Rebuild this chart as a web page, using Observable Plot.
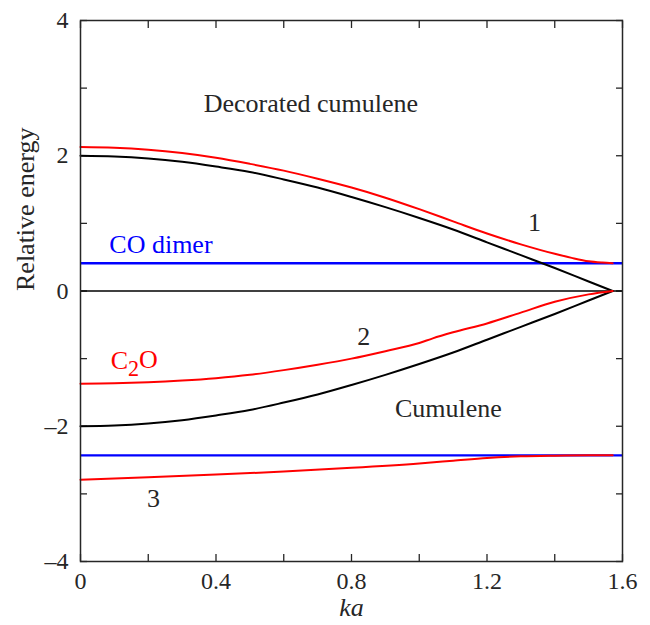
<!DOCTYPE html>
<html>
<head>
<meta charset="utf-8">
<script src="https://cdn.jsdelivr.net/npm/d3@7"></script>
<script src="https://cdn.jsdelivr.net/npm/@observablehq/plot@0.6"></script>
<style>
  html, body { margin: 0; padding: 0; background: #fff; }
</style>
</head>
<body>
<div id="chart"></div>
<script>
// ---- data ----
const kaCum = [0, 0.1, 0.2, 0.3, 0.4, 0.5, 0.6, 0.7, 0.8, 0.9, 1.0, 1.1, 1.2, 1.3, 1.4, 1.5, 1.571];
const cumUpper = [2.00, 1.99, 1.96, 1.91, 1.84, 1.76, 1.65, 1.53, 1.39, 1.24, 1.08, 0.91, 0.72, 0.53, 0.34, 0.14, 0.00];
const cumLower = [-2.00, -1.99, -1.96, -1.91, -1.84, -1.76, -1.65, -1.53, -1.39, -1.24, -1.08, -0.91, -0.72, -0.53, -0.34, -0.14, 0.00];

const kaRed1 = [0, 0.1, 0.2, 0.3, 0.4, 0.5, 0.6, 0.7, 0.8, 0.9, 1.0, 1.1, 1.2, 1.3, 1.4, 1.45, 1.5, 1.54, 1.571];
const red1 = [2.13, 2.12, 2.09, 2.04, 1.97, 1.88, 1.78, 1.66, 1.53, 1.38, 1.21, 1.03, 0.85, 0.69, 0.55, 0.49, 0.44, 0.42, 0.41];

const kaRed2 = [0, 0.1, 0.2, 0.3, 0.4, 0.5, 0.6, 0.7, 0.8, 0.9, 1.0, 1.04, 1.1, 1.2, 1.3, 1.4, 1.5, 1.571];
const red2 = [-1.37, -1.365, -1.35, -1.325, -1.29, -1.24, -1.17, -1.09, -1.00, -0.89, -0.77, -0.70, -0.61, -0.48, -0.32, -0.16, -0.05, 0.00];

const kaRed3 = [0, 0.2, 0.4, 0.6, 0.8, 1.0, 1.1, 1.2, 1.3, 1.4, 1.5, 1.571];
const red3 = [-2.79, -2.755, -2.715, -2.67, -2.615, -2.55, -2.51, -2.47, -2.445, -2.435, -2.43, -2.43];

const coDimerLevels = [0.41, -2.43];
const zeroLevel = [0];

const xMinorTicks = [0, 0.2, 0.4, 0.6, 0.8, 1.0, 1.2, 1.4, 1.6];
const xLabelTicks = [0, 0.4, 0.8, 1.2, 1.6];
const yMinorTicks = [-4, -3, -2, -1, 0, 1, 2, 3, 4];
const yLabelTicks = [-4, -2, 0, 2, 4];

const annotLabels = ["Decorated cumulene", "Cumulene", "1", "2", "3"];
const annotX = [0.680, 1.086, 1.340, 0.836, 0.2155];
const annotY = [2.77, -1.74, 1.01, -0.67, -3.07];

const colorLabels = ["CO dimer", "C2O"];
const colorLabelX = [0.085, 0.089];
const colorLabelY = [0.69, -1.03];
const colorLabelColor = ["#0000ff", "#ff0000"];

// ---- build tables ----
const toRows = (xs, ys) => xs.map((x, i) => ({x, y: ys[i]}));
const annots = annotLabels.map((t, i) => ({t, x: annotX[i], y: annotY[i]}));
const colorAnnots = colorLabels.map((t, i) => ({t, x: colorLabelX[i], y: colorLabelY[i], c: colorLabelColor[i]}));

const FONT = "Liberation Serif";
const INK = "#262626";

const plot = Plot.plot({
  width: 650,
  height: 625,
  marginTop: 20,
  marginRight: 28,
  marginBottom: 64,
  marginLeft: 80,
  x: {domain: [0, 1.6]},
  y: {domain: [-4, 4]},
  marks: [
    // inward ticks on all four sides
    Plot.axisX(xMinorTicks, {anchor: "bottom", tickSize: -7, tickFormat: () => null, label: null, stroke: INK, strokeWidth: 1.3}),
    Plot.axisX(xMinorTicks, {anchor: "top", tickSize: -7, tickFormat: () => null, label: null, stroke: INK, strokeWidth: 1.3}),
    Plot.axisY(yMinorTicks, {anchor: "left", tickSize: -7, tickFormat: () => null, label: null, stroke: INK, strokeWidth: 1.3}),
    Plot.axisY(yMinorTicks, {anchor: "right", tickSize: -7, tickFormat: () => null, label: null, stroke: INK, strokeWidth: 1.3}),
    // tick labels
    Plot.axisX(xLabelTicks, {anchor: "bottom", tickSize: 0, tickPadding: 10, fontSize: 24, fontFamily: FONT, label: null, tickFormat: d => String(d), fill: INK}),
    Plot.axisY(yLabelTicks, {anchor: "left", tickSize: 0, tickPadding: 12, fontSize: 24, fontFamily: FONT, label: null, tickFormat: d => (d < 0 ? "\u2013" + Math.abs(d) : String(d)), fill: INK}),
    // horizontal reference lines
    Plot.ruleY(zeroLevel, {stroke: "#000", strokeWidth: 1.3}),
    Plot.ruleY(coDimerLevels, {stroke: "#0000ff", strokeWidth: 2.3}),
    // curves
    Plot.line(toRows(kaCum, cumUpper), {x: "x", y: "y", stroke: "#000", strokeWidth: 2, curve: "monotone-x"}),
    Plot.line(toRows(kaCum, cumLower), {x: "x", y: "y", stroke: "#000", strokeWidth: 2, curve: "monotone-x"}),
    Plot.line(toRows(kaRed1, red1), {x: "x", y: "y", stroke: "#ff0000", strokeWidth: 2, curve: "monotone-x"}),
    Plot.line(toRows(kaRed2, red2), {x: "x", y: "y", stroke: "#ff0000", strokeWidth: 2, curve: "monotone-x"}),
    Plot.line(toRows(kaRed3, red3), {x: "x", y: "y", stroke: "#ff0000", strokeWidth: 2, curve: "monotone-x"}),
    // frame
    Plot.frame({stroke: INK, strokeWidth: 1.5}),
    // annotations
    Plot.text(annots, {x: "x", y: "y", text: "t", fontSize: 26, fontFamily: FONT, fill: INK, textAnchor: "middle", lineAnchor: "middle"}),
    Plot.text(colorAnnots, {x: "x", y: "y", text: "t", fontSize: 26, fontFamily: FONT, fill: d => d.c, textAnchor: "start", lineAnchor: "middle"}),
    // axis titles
    Plot.text(["ka"], {text: d => d, frameAnchor: "bottom", dy: 46, fontSize: 26, fontFamily: FONT, fontStyle: "italic", fill: INK, lineAnchor: "middle"}),
    Plot.text(["Relative energy"], {text: d => d, frameAnchor: "left", dx: -55, rotate: -90, fontSize: 26, fontFamily: FONT, fill: INK, lineAnchor: "middle"})
  ]
});

// force the serif face on every text element
d3.select(plot).attr("font-family", FONT);
d3.select(plot).selectAll("g").filter(function () { return this.getAttribute("font-family"); }).attr("font-family", FONT);
d3.select(plot).selectAll("text").attr("font-family", FONT).style("font-family", FONT);

// subscript for C2O
d3.select(plot).selectAll("text").filter(function () { return this.textContent === "C2O"; })
  .each(function () {
    const t = d3.select(this);
    t.text("");
    t.append("tspan").text("C");
    t.append("tspan").attr("dy", "0.3em").attr("font-size", "0.85em").text("2");
    t.append("tspan").attr("dy", "-0.3em").text("O");
  });

document.getElementById("chart").appendChild(plot);
</script>
</body>
</html>
